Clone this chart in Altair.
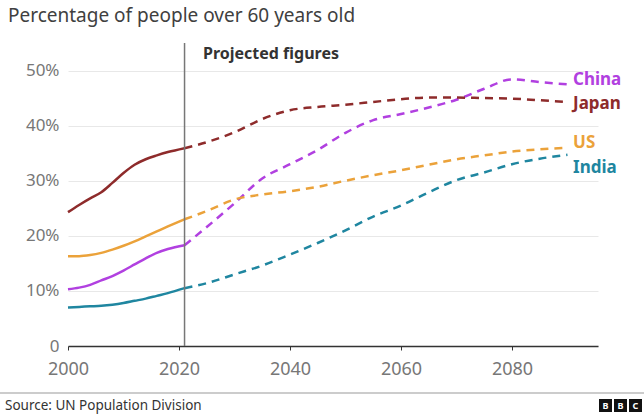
import altair as alt
import pandas as pd

# ---- data ----
countries = ["China", "Japan", "US", "India"]
colors = ["#b140e0", "#8e2b2b", "#eba23a", "#1f86a0"]

hist_years = [2000, 2002, 2004, 2006, 2008, 2010, 2012, 2014, 2016, 2018, 2021]
hist_japan = [24.3, 25.6, 26.8, 27.9, 29.6, 31.4, 32.9, 33.9, 34.6, 35.2, 35.9]
hist_us    = [16.3, 16.3, 16.5, 16.9, 17.5, 18.2, 19.0, 19.9, 20.8, 21.7, 23.0]
hist_china = [10.3, 10.6, 11.1, 11.9, 12.7, 13.7, 14.8, 15.9, 16.9, 17.6, 18.3]
hist_india = [7.0, 7.1, 7.2, 7.3, 7.5, 7.8, 8.2, 8.6, 9.1, 9.6, 10.5]

proj_years = [2021, 2025, 2030, 2035, 2040, 2045, 2050, 2055, 2060, 2065, 2070, 2075, 2080, 2085, 2090]
proj_japan = [35.9, 37.0, 38.8, 41.2, 42.8, 43.4, 43.8, 44.3, 44.8, 45.1, 45.1, 45.0, 44.9, 44.6, 44.3]
proj_china = [18.3, 21.6, 25.9, 30.4, 33.0, 35.6, 38.7, 41.0, 42.1, 43.3, 44.7, 46.7, 48.4, 47.9, 47.5]
proj_us    = [23.0, 24.5, 26.6, 27.5, 28.1, 28.9, 30.0, 31.0, 31.9, 32.9, 33.9, 34.6, 35.3, 35.7, 36.0]
proj_india = [10.5, 11.4, 13.0, 14.6, 16.6, 18.7, 21.0, 23.5, 25.5, 27.9, 30.1, 31.5, 33.0, 34.0, 34.7]

label_x = [2091, 2091, 2091, 2091]
label_y = [48.2, 44.0, 36.9, 32.4]

x_ticks = [2000, 2020, 2040, 2060, 2080]
y_ticks = [0, 10, 20, 30, 40, 50]
projection_start = 2021

title_text = "Percentage of people over 60 years old"
projected_text = "Projected figures"
source_text = "Source: UN Population Division"
logo_letters = ["B", "B", "C"]

FONT = "Noto Sans"

# ---- tables ----
hist_map = {"China": hist_china, "Japan": hist_japan, "US": hist_us, "India": hist_india}
proj_map = {"China": proj_china, "Japan": proj_japan, "US": proj_us, "India": proj_india}
hist_rows = [{"year": y, "value": v, "country": c} for c in countries for y, v in zip(hist_years, hist_map[c])]
proj_rows = [{"year": y, "value": v, "country": c} for c in countries for y, v in zip(proj_years, proj_map[c])]
hist_df = pd.DataFrame(hist_rows)
proj_df = pd.DataFrame(proj_rows)
labels_df = pd.DataFrame({"country": countries, "x": label_x, "y": label_y})

xscale = alt.Scale(domain=[2000, 2095.5], nice=False, zero=False)
yscale = alt.Scale(domain=[0, 55], nice=False)
cscale = alt.Scale(domain=countries, range=colors)

x_enc = alt.X("year:Q", scale=xscale, axis=alt.Axis(
    values=x_ticks, format="d", title=None, grid=False, labelFlush=False,
    domainColor="#333333", domainWidth=1.5, tickColor="#333333", tickSize=4,
    labelColor="#777777", labelFontSize=18, labelFont=FONT, labelPadding=10))
y_enc = alt.Y("value:Q", scale=yscale, axis=alt.Axis(
    values=y_ticks, title=None, grid=True, gridColor="#e8e8e8", gridWidth=1,
    domain=False, ticks=False, labelPadding=9,
    labelExpr="datum.value == 0 ? '0' : datum.value + '%'",
    labelColor="#777777", labelFontSize=17, labelFont=FONT))

rule = alt.Chart(pd.DataFrame({"year": [projection_start]})).mark_rule(
    color="#777777", strokeWidth=1.5).encode(
    x=alt.X("year:Q", scale=xscale), y=alt.value(0), y2=alt.value(303))

hist_lines = alt.Chart(hist_df).mark_line(strokeWidth=2.5, interpolate="monotone").encode(
    x=x_enc, y=y_enc,
    color=alt.Color("country:N", scale=cscale, legend=None), detail="country:N")

proj_lines = alt.Chart(proj_df).mark_line(strokeWidth=2.5, interpolate="monotone",
                                          strokeDash=[8, 6]).encode(
    x=alt.X("year:Q", scale=xscale), y=alt.Y("value:Q", scale=yscale),
    color=alt.Color("country:N", scale=cscale, legend=None), detail="country:N")

labels = alt.Chart(labels_df).mark_text(align="left", baseline="middle", fontSize=17,
                                        fontWeight="bold", font=FONT).encode(
    x=alt.X("x:Q", scale=xscale), y=alt.Y("y:Q", scale=yscale),
    text="country:N", color=alt.Color("country:N", scale=cscale, legend=None))

title = alt.Chart(pd.DataFrame({"t": [title_text]})).mark_text(
    align="left", baseline="alphabetic", fontSize=19, font=FONT, color="#404040").encode(
    x=alt.value(-60), y=alt.value(-21), text="t:N")

projected = alt.Chart(pd.DataFrame({"t": [projected_text]})).mark_text(
    align="left", baseline="alphabetic", fontSize=16, fontWeight="bold", font=FONT,
    color="#333333").encode(x=alt.value(135), y=alt.value(16), text="t:N")

footer_line = alt.Chart(pd.DataFrame({"a": [0]})).mark_rule(color="#cccccc", strokeWidth=2).encode(
    x=alt.value(-68), x2=alt.value(576), y=alt.value(350))

source = alt.Chart(pd.DataFrame({"t": [source_text]})).mark_text(
    align="left", baseline="alphabetic", fontSize=13.5, font=FONT, color="#333333").encode(
    x=alt.value(-63), y=alt.value(367), text="t:N")

logo_df = pd.DataFrame({"letter": logo_letters, "i": list(range(len(logo_letters)))})
logo_boxes = alt.Chart(logo_df).transform_calculate(px="531 + 15 * datum.i").mark_rect(
    color="#111111").encode(
    x=alt.X("px:Q", scale=None), x2=alt.X2("px2:Q"), y=alt.value(356), y2=alt.value(369)
).transform_calculate(px2="datum.px + 13")
logo_text = alt.Chart(logo_df).transform_calculate(px="537.5 + 15 * datum.i").mark_text(
    color="white", fontSize=9, fontWeight="bold", font=FONT, baseline="middle").encode(
    x=alt.X("px:Q", scale=None), y=alt.value(362.5), text="letter:N")

chart = alt.layer(
    hist_lines, proj_lines, rule, labels, title, projected,
    footer_line, source, logo_boxes, logo_text
).properties(
    width=530, height=303,
    padding={"left": 68, "top": 43, "right": 46, "bottom": 70},
    autosize=alt.AutoSizeParams(type="none"),
    background="white",
).configure_view(stroke=None)

chart.save("out.html", embed_options={"renderer": "svg", "actions": False})
